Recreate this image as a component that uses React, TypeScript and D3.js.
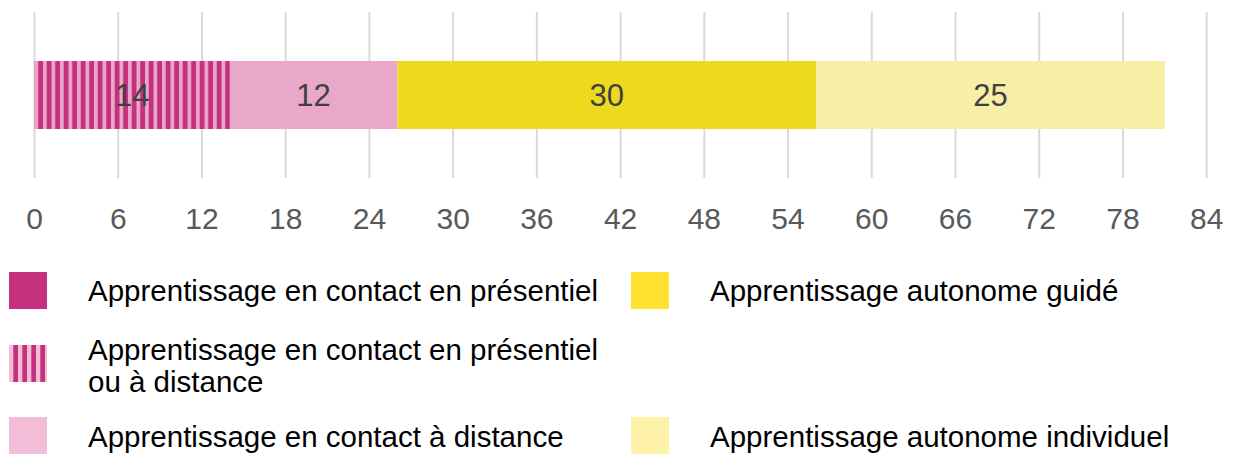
import React from "react";
import * as d3 from "d3";

const categories = [
  "Apprentissage en contact en présentiel",
  "Apprentissage en contact en présentiel ou à distance",
  "Apprentissage en contact à distance",
  "Apprentissage autonome guidé",
  "Apprentissage autonome individuel",
];
const values = [0, 14, 12, 30, 25];
const tickValues = [0, 6, 12, 18, 24, 30, 36, 42, 48, 54, 60, 66, 72, 78, 84];

const barFills = ["#C5317E", "url(#stripes)", "#E9A8CA", "#EDDA1F", "#F7EFA5"];
const legendFills = ["#C5317E", "url(#stripesLegend)", "#F2BDD6", "#FFE22F", "#FEF2A9"];

// legend placement and wrapped label lines (baselines)
const legendItems = [
  { i: 0, x: 9, y: 272, lines: [categories[0]], base: [301] },
  { i: 1, x: 9, y: 345, lines: ["Apprentissage en contact en présentiel", "ou à distance"], base: [359.5, 391.5] },
  { i: 2, x: 9, y: 417, lines: [categories[2]], base: [447] },
  { i: 3, x: 631, y: 272, lines: [categories[3]], base: [301] },
  { i: 4, x: 631, y: 417, lines: [categories[4]], base: [447] },
];

const App = () => {
  const width = 1234;
  const height = 454;
  const x = d3.scaleLinear().domain([0, 84]).range([34.5, 1206.7]);
  const barTop = 61;
  const barH = 68;
  const gridTop = 12;
  const gridBottom = 178;

  const starts = values.map((_, i) => d3.sum(values.slice(0, i)));
  const font = "'Liberation Sans', Arial, sans-serif";

  return (
    <svg
      width={width}
      height={height}
      style={{ position: "absolute", left: 0, top: 0, fontFamily: font }}
    >
      <defs>
        <pattern id="stripes" patternUnits="userSpaceOnUse" x={34.5} y={0} width={8.5} height={10}>
          <rect x={0} y={0} width={8.5} height={10} fill="#EBA7CB" />
          <rect x={3.7} y={0} width={4.8} height={10} fill="#C5317E" />
        </pattern>
        <pattern id="stripesLegend" patternUnits="userSpaceOnUse" x={9} y={0} width={9} height={10}>
          <rect x={0} y={0} width={9} height={10} fill="#F2BDD6" />
          <rect x={4.3} y={0} width={4.7} height={10} fill="#C5317E" />
        </pattern>
      </defs>

      {/* gridlines */}
      {tickValues.map((t) => (
        <line
          key={t}
          x1={x(t)}
          x2={x(t)}
          y1={gridTop}
          y2={gridBottom}
          stroke="#D9D9D9"
          strokeWidth={2}
        />
      ))}

      {/* stacked bar */}
      {values.map((v, i) =>
        v > 0 ? (
          <g key={i}>
            <rect
              x={x(starts[i])}
              y={barTop}
              width={x(starts[i] + v) - x(starts[i])}
              height={barH}
              fill={barFills[i]}
            />
            <text
              x={(x(starts[i]) + x(starts[i] + v)) / 2}
              y={barTop + barH / 2}
              dy="0.36em"
              textAnchor="middle"
              fontSize={31}
              fill="#404040"
            >
              {v}
            </text>
          </g>
        ) : null
      )}

      {/* tick labels */}
      {tickValues.map((t) => (
        <text
          key={t}
          x={x(t)}
          y={218}
          dy="0.36em"
          textAnchor="middle"
          fontSize={30}
          fill="#595959"
        >
          {t}
        </text>
      ))}

      {/* legend */}
      {legendItems.map((d) => (
        <g key={d.i}>
          <rect x={d.x} y={d.y} width={38} height={37} fill={legendFills[d.i]} />
          {d.lines.map((line, j) => (
            <text key={j} x={d.x + 79} y={d.base[j]} fontSize={29.5} fill="#000">
              {line}
            </text>
          ))}
        </g>
      ))}
    </svg>
  );
};

export default App;
